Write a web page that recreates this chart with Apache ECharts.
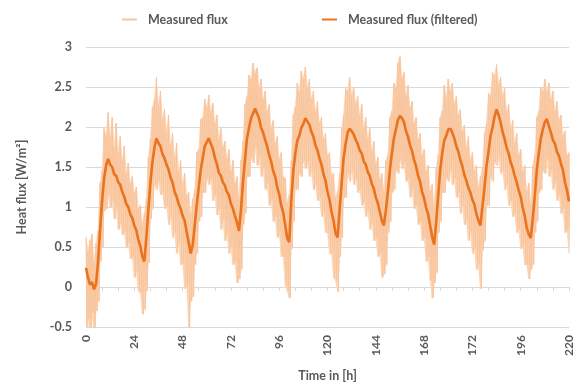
<!DOCTYPE html>
<html>
<head>
<meta charset="utf-8">
<script src="https://cdn.jsdelivr.net/npm/echarts@6/dist/echarts.min.js"></script>
<style>
  html, body { margin: 0; padding: 0; background: #fff; }
  #chart { width: 575px; height: 387px; }
</style>
</head>
<body>
<div id="chart"></div>
<script>
// x tick labels as printed on the original axis (one every 24 axis units)
const timeLabels = ['0', '24', '48', '72', '96', '120', '144', '168', '172', '196', '220'];

// filtered flux, one value per hour (W/m²)
const filteredFlux = [
  0.24, 0.12, 0.03, 0.06, -0.03, 0.04, 0.32, 0.72, 1.08, 1.36, 1.52,
  1.6, 1.53, 1.5, 1.41, 1.39, 1.31, 1.28, 1.19, 1.13, 1.04,
  1.0, 0.91, 0.86, 0.77, 0.71, 0.59, 0.51, 0.38, 0.32, 0.62,
  0.97, 1.3, 1.56, 1.74, 1.86, 1.8, 1.76, 1.66, 1.61, 1.53,
  1.47, 1.37, 1.31, 1.19, 1.13, 1.04, 0.98, 0.89, 0.83, 0.69,
  0.56, 0.42, 0.52, 0.76, 1.02, 1.24, 1.46, 1.61, 1.76, 1.81,
  1.86, 1.79, 1.73, 1.62, 1.54, 1.43, 1.39, 1.31, 1.27, 1.19,
  1.15, 1.04, 0.98, 0.89, 0.81, 0.7, 0.96, 1.31, 1.59, 1.86,
  1.99, 2.11, 2.17, 2.23, 2.17, 2.11, 1.99, 1.93, 1.84, 1.76,
  1.65, 1.57, 1.45, 1.38, 1.25, 1.16, 1.02, 0.93, 0.77, 0.61,
  0.56, 1.08, 1.45, 1.67, 1.83, 1.89, 1.99, 2.04, 2.11, 2.07,
  2.03, 1.94, 1.88, 1.77, 1.71, 1.61, 1.53, 1.41, 1.33, 1.19,
  1.09, 0.94, 0.83, 0.67, 0.62, 0.96, 1.29, 1.61, 1.79, 1.93,
  1.98, 1.95, 1.91, 1.84, 1.79, 1.71, 1.67, 1.57, 1.53, 1.44,
  1.39, 1.29, 1.23, 1.12, 1.05, 0.94, 0.83, 0.77, 0.96, 1.19,
  1.46, 1.67, 1.86, 1.97, 2.09, 2.14, 2.11, 2.06, 1.95, 1.88,
  1.77, 1.7, 1.59, 1.51, 1.39, 1.32, 1.19, 1.11, 0.99, 0.91,
  0.77, 0.63, 0.53, 0.81, 1.14, 1.46, 1.67, 1.83, 1.89, 1.97,
  1.98, 1.93, 1.86, 1.76, 1.69, 1.59, 1.51, 1.4, 1.33, 1.24,
  1.18, 1.09, 1.03, 0.91, 0.83, 0.77, 1.01, 1.24, 1.51, 1.69,
  1.89, 1.99, 2.13, 2.22, 2.15, 2.06, 1.94, 1.85, 1.74, 1.67,
  1.56, 1.49, 1.39, 1.31, 1.21, 1.13, 0.99, 0.89, 0.74, 0.66,
  0.61, 0.86, 1.14, 1.46, 1.67, 1.86, 1.97, 2.06, 2.1, 2.01,
  1.93, 1.84, 1.79, 1.69, 1.64, 1.54, 1.46, 1.31, 1.21, 1.07
];

// raw measured flux: highest and lowest reading inside each hour
const rawHigh = [
  0.62, 0.45, 0.58, 0.66, 0.32, 0.55, 0.7, 1.3, 1.45, 1.98, 1.9,
  2.18, 1.88, 2.12, 1.75, 2.05, 1.68, 1.88, 1.58, 1.76, 1.42,
  1.55, 1.3, 1.38, 1.18, 1.25, 0.98, 1.02, 0.8, 0.92, 1.1,
  1.62, 1.85, 2.25, 2.35, 2.62, 2.28, 2.45, 2.1, 2.22, 1.95,
  2.15, 1.78, 1.92, 1.62, 1.8, 1.45, 1.58, 1.3, 1.42, 1.15,
  1.18, 0.92, 1.1, 1.22, 1.68, 1.72, 2.1, 2.12, 2.35, 2.25,
  2.4, 2.2, 2.3, 2.05, 2.15, 1.85, 1.98, 1.75, 1.82, 1.6,
  1.72, 1.45, 1.58, 1.3, 1.38, 1.1, 1.58, 1.82, 2.28, 2.38,
  2.65, 2.6, 2.8, 2.68, 2.74, 2.5, 2.6, 2.35, 2.45, 2.2,
  2.28, 2.0, 2.08, 1.8, 1.88, 1.6, 1.68, 1.38, 1.36, 1.05,
  1.15, 1.58, 2.15, 2.25, 2.55, 2.45, 2.7, 2.6, 2.75, 2.5,
  2.6, 2.35, 2.45, 2.2, 2.32, 2.05, 2.12, 1.85, 1.92, 1.65,
  1.68, 1.4, 1.42, 1.12, 1.2, 1.42, 1.98, 2.15, 2.48, 2.45,
  2.62, 2.4, 2.5, 2.3, 2.38, 2.15, 2.28, 2.0, 2.12, 1.85,
  1.98, 1.7, 1.82, 1.55, 1.62, 1.35, 1.42, 1.2, 1.58, 1.65,
  2.12, 2.2, 2.55, 2.5, 2.8, 2.88, 2.62, 2.68, 2.4, 2.52,
  2.25, 2.32, 2.05, 2.12, 1.85, 1.92, 1.65, 1.72, 1.45, 1.52,
  1.2, 1.28, 1.0, 1.48, 1.65, 2.12, 2.2, 2.52, 2.38, 2.6,
  2.45, 2.55, 2.3, 2.38, 2.15, 2.22, 1.95, 2.02, 1.75, 1.88,
  1.6, 1.68, 1.45, 1.52, 1.25, 1.38, 1.48, 1.92, 2.05, 2.42,
  2.4, 2.68, 2.65, 2.78, 2.55, 2.62, 2.4, 2.48, 2.2, 2.28,
  2.0, 2.08, 1.8, 1.92, 1.65, 1.72, 1.45, 1.52, 1.2, 1.3,
  1.05, 1.52, 1.65, 2.12, 2.2, 2.5, 2.45, 2.6, 2.45, 2.55,
  2.35, 2.45, 2.2, 2.32, 2.1, 2.15, 1.9, 1.95, 1.65, 1.68
];
const rawLow = [
  -0.5, -0.4, -0.6, -0.32, -0.58, -0.3, -0.18, 0.32, 0.5, 0.95, 0.98,
  1.15, 1.0, 1.08, 0.85, 0.98, 0.72, 0.8, 0.65, 0.7, 0.5,
  0.55, 0.35, 0.38, 0.12, 0.2, -0.05, -0.08, -0.34, -0.28, -0.05,
  0.3, 0.85, 0.98, 1.28, 1.22, 1.32, 1.15, 1.18, 0.98, 1.02,
  0.78, 0.88, 0.62, 0.68, 0.42, 0.55, 0.28, 0.3, -0.02, 0.02,
  -0.52, -0.18, -0.12, 0.28, 0.42, 0.82, 0.88, 1.18, 1.18, 1.36,
  1.28, 1.35, 1.08, 1.15, 0.9, 0.98, 0.72, 0.85, 0.58, 0.68,
  0.42, 0.52, 0.28, 0.32, 0.05, 0.1, 0.22, 0.78, 0.92, 1.38,
  1.38, 1.62, 1.55, 1.75, 1.52, 1.62, 1.38, 1.48, 1.22, 1.3,
  1.02, 1.08, 0.82, 0.88, 0.62, 0.68, 0.38, 0.38, 0.02, -0.05,
  -0.14, 0.48, 0.82, 1.22, 1.22, 1.42, 1.38, 1.58, 1.48, 1.56,
  1.38, 1.46, 1.22, 1.28, 1.08, 1.12, 0.88, 0.92, 0.68, 0.68,
  0.42, 0.42, 0.12, 0.08, -0.06, 0.38, 0.62, 1.12, 1.12, 1.42,
  1.32, 1.46, 1.28, 1.36, 1.18, 1.22, 1.02, 1.06, 0.88, 0.96,
  0.72, 0.8, 0.58, 0.62, 0.38, 0.42, 0.12, 0.16, 0.28, 0.68,
  0.82, 1.18, 1.22, 1.46, 1.42, 1.6, 1.48, 1.56, 1.32, 1.36,
  1.12, 1.22, 0.98, 1.02, 0.78, 0.82, 0.58, 0.62, 0.32, 0.38,
  0.08, -0.14, 0.05, 0.18, 0.68, 0.82, 1.18, 1.18, 1.36, 1.32,
  1.46, 1.28, 1.36, 1.12, 1.18, 0.92, 1.02, 0.78, 0.82, 0.58,
  0.68, 0.42, 0.48, 0.22, 0.28, -0.02, 0.46, 0.58, 1.02, 1.02,
  1.38, 1.32, 1.56, 1.52, 1.62, 1.42, 1.46, 1.22, 1.28, 1.02,
  1.08, 0.88, 0.92, 0.68, 0.72, 0.48, 0.52, 0.28, 0.28, 0.1,
  0.22, 0.28, 0.68, 0.82, 1.18, 1.22, 1.46, 1.42, 1.6, 1.38,
  1.46, 1.22, 1.32, 1.08, 1.16, 0.92, 0.98, 0.68, 0.72, 0.42
];

const gray = '#595959';
const gridGray = '#d9d9d9';
const rawColor = '#f8c59d';
const bandColor = '#fbd4b4';
const filteredColor = '#e9731f';
const font = 'Lato, "Open Sans", sans-serif';

// hour index -> [hour, value]; raw readings alternate high/low inside each hour
const filteredData = filteredFlux.map((v, i) => [i, v]);
const rawData = [];
rawHigh.forEach((h, i) => {
  rawData.push([i, h]);
  rawData.push([i + 0.5, rawLow[i]]);
});
// one band piece per hour: [hour, high, low, next hour, next high, next low]
const bandData = [];
for (let i = 0; i < rawHigh.length - 1; i++) {
  bandData.push([i, rawHigh[i], rawLow[i], i + 1, rawHigh[i + 1], rawLow[i + 1]]);
}

const legendBase = {
  top: 13,
  padding: 0,
  icon: 'rect',
  itemWidth: 15,
  itemHeight: 2,
  textStyle: { color: gray, fontSize: 12.5, fontWeight: 'bold', fontFamily: font, padding: [0, 0, 0, 6] }
};

const chart = echarts.init(document.getElementById('chart'));

chart.setOption({
  animation: false,
  textStyle: { fontFamily: font },
  grid: { left: 86, right: 3, top: 47, bottom: 57 },
  legend: [
    Object.assign({}, legendBase, { left: 122, data: ['Measured flux'] }),
    Object.assign({}, legendBase, { left: 322, data: ['Measured flux (filtered)'] })
  ],
  xAxis: [
    {
      type: 'value',
      min: 0,
      max: 240,
      interval: 24,
      position: 'bottom',
      name: 'Time in [h]',
      nameLocation: 'middle',
      nameGap: 42,
      nameTextStyle: { color: gray, fontSize: 12.5, fontWeight: 'bold', fontFamily: font },
      axisLine: { show: false, onZero: false },
      axisTick: { show: false },
      splitLine: { show: false },
      axisLabel: {
        rotate: 90,
        color: gray,
        fontSize: 12,
        fontWeight: 'bold',
        margin: 8,
        formatter: v => timeLabels[Math.round(v / 24)]
      }
    },
    {
      type: 'value',
      min: 0,
      max: 240,
      interval: 8,
      position: 'bottom',
      axisLine: { show: true, onZero: true, lineStyle: { color: gridGray, width: 1 } },
      axisTick: { show: true, length: 4, lineStyle: { color: gridGray } },
      axisLabel: { show: false },
      splitLine: { show: false }
    }
  ],
  yAxis: {
    type: 'value',
    min: -0.5,
    max: 3,
    interval: 0.5,
    name: 'Heat flux [W/m²]',
    nameLocation: 'middle',
    nameGap: 58,
    nameTextStyle: { color: gray, fontSize: 12.5, fontWeight: 'bold', fontFamily: font },
    axisLine: { show: false },
    axisTick: { show: false },
    axisLabel: { color: gray, fontSize: 12.5, fontWeight: 'bold', margin: 14 },
    splitLine: { lineStyle: { color: gridGray, width: 1 } }
  },
  series: [
    {
      name: 'band',
      type: 'custom',
      data: bandData,
      clip: true,
      silent: true,
      encode: { x: [0, 3], y: [1, 2, 4, 5] },
      renderItem: (params, api) => {
        const pts = [
          api.coord([api.value(0), api.value(1)]),
          api.coord([api.value(3), api.value(4)]),
          api.coord([api.value(3), api.value(5)]),
          api.coord([api.value(0), api.value(2)])
        ];
        return {
          type: 'polygon',
          shape: { points: pts },
          style: { fill: bandColor, stroke: bandColor, lineWidth: 0.6 }
        };
      },
      z: 1
    },
    {
      name: 'Measured flux',
      type: 'line',
      data: rawData,
      symbol: 'none',
      clip: true,
      lineStyle: { color: rawColor, width: 1 },
      itemStyle: { color: rawColor },
      z: 2
    },
    {
      name: 'Measured flux (filtered)',
      type: 'line',
      data: filteredData,
      symbol: 'none',
      clip: true,
      lineStyle: { color: filteredColor, width: 2.6 },
      itemStyle: { color: filteredColor },
      z: 3
    }
  ]
});
</script>
</body>
</html>
